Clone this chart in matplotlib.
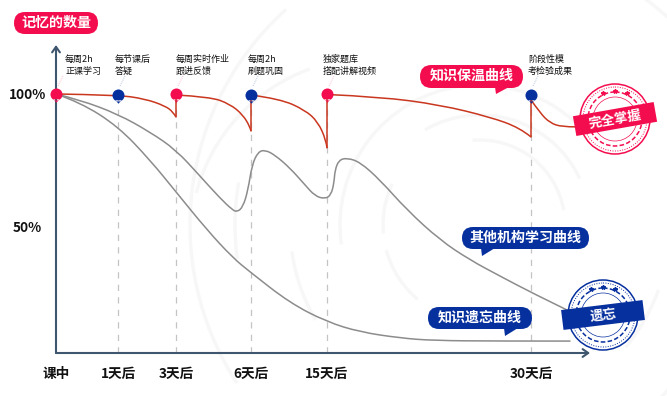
import matplotlib

matplotlib.use("Agg")
import matplotlib.pyplot as plt
from matplotlib.patches import Arc, Circle, FancyBboxPatch, PathPatch, Polygon, Rectangle
from matplotlib.path import Path
from matplotlib.transforms import Affine2D

plt.rcParams["font.family"] = ["Noto Sans CJK SC", "DejaVu Sans"]

RED = "#f40d4e"
BLUE = "#07309f"
CURVE_RED = "#c9371f"
GRAY = "#8c8c8c"
AXIS = "#3f566f"

tick_x = [56, 118, 176, 251, 327, 531]
tick_labels = ["课中", "1天后", "3天后", "6天后", "15天后", "30天后"]

forget_x = [56, 80, 118, 150, 176, 207, 233, 250, 290, 327, 360, 400, 433, 500, 570]
forget_y = [100, 96.8, 87.5, 74.5, 62.2, 47.5, 36.7, 31.3, 19.3, 12.0, 8.1, 5.8, 4.8, 4.6, 4.6]

other_x = [56, 80, 118, 150, 176, 200, 220, 232, 237, 243, 248, 252, 258, 265, 275, 290, 305, 315,
           325, 331, 334, 335, 339, 347, 360, 380, 407, 440, 470, 500, 532, 567]
other_y = [100, 97.7, 92.2, 85.3, 78.4, 68.3, 59.8, 55.4, 54.4, 56.4, 62.9, 72.6, 77.6, 78.4, 76.4, 71.4, 64.9, 60.6,
           59.5, 61, 65.6, 70.7, 74.5, 75.3, 73.7, 66.8, 55.2, 43.6, 35.9, 29.7, 23.2, 16.6]

keep_segments_x = [
    [56, 118, 145, 165, 173, 176],
    [176, 210, 230, 243, 250, 251],
    [251, 280, 305, 318, 326, 327],
    [327, 380, 440, 490, 520, 531],
    [531, 540, 550, 562, 575],
]
keep_segments_y = [
    [100, 99.6, 98.1, 95.4, 93.1, 91.1],
    [99.6, 98.9, 96.1, 91.9, 87.3, 85.7],
    [99.6, 98.1, 93.8, 89.2, 82.2, 79.2],
    [99.8, 98.9, 95.8, 91.1, 86.9, 83.4],
    [97.7, 92.7, 88.8, 87.3, 87.3],
]
drop_x = [176, 251, 327, 531]
drop_top = [99.6, 99.6, 99.8, 99.6]
drop_bottom = [91.1, 85.7, 79.2, 83.4]

pin_x = [56, 118, 176, 251, 327, 531]
pin_y = [100, 99.6, 100, 99.6, 99.8, 99.6]
pin_colors = [RED, BLUE, RED, BLUE, RED, BLUE]

notes = ["每周2h\n正课学习", "每节课后\n答疑", "每周实时作业\n跟进反馈", "每周2h\n刷题巩固", "独家题库\n搭配讲解视频", "阶段性模\n考检验成果"]
note_x = [65, 115, 176, 248, 323, 528]

bg_arcs = [
    (480, 225, 290, 147, 228),
    (372, 240, 182, 195, 250),
    (480, 225, 245, 172, 190),
    (480, 225, 190, 150, 172),
    (480, 225, 140, 172, 262),
    (480, 225, 97, 175, 205),
    (480, 225, 140, 278, 325),
    (480, 225, 110, 240, 335),
    (480, 225, 85, 265, 350),
    (480, 225, 280, 300, 335),
    (480, 225, 250, 25, 50),
    (372, 240, 250, 40, 60),
    (480, 225, 97, 130, 165),
    (480, 225, 190, 20, 40),
]


def smooth_path(xs, ys):
    # quadratic segments through midpoints, keeps the hand drawn look
    verts = [(xs[0], ys[0])]
    codes = [Path.MOVETO]
    for i in range(1, len(xs) - 1):
        verts.append((xs[i], ys[i]))
        codes.append(Path.CURVE3)
        if i < len(xs) - 2:
            verts.append(((xs[i] + xs[i + 1]) / 2, (ys[i] + ys[i + 1]) / 2))
        else:
            verts.append((xs[-1], ys[-1]))
        codes.append(Path.CURVE3)
    return Path(verts, codes)


def add_curve(axis, xs, ys, color, width):
    axis.add_patch(PathPatch(smooth_path(xs, ys), fill=False, edgecolor=color, linewidth=width, capstyle="round"))


def add_bubble(axis, x0, y0, x1, y1, tail, color, label):
    height = y1 - y0
    box = FancyBboxPatch((x0 + height / 2, y0 + height / 2), x1 - x0 - height, 0,
                         boxstyle=f"round,pad={height / 2},rounding_size={height / 2}",
                         facecolor=color, edgecolor="none", zorder=5)
    axis.add_patch(box)
    if tail is not None:
        axis.add_patch(Polygon([(tail[0] - 1, y1 - 1), (tail[0] + 13, y1 - 1), tail], facecolor=color, edgecolor="none", zorder=5))
    axis.text((x0 + x1) / 2, (y0 + y1) / 2 - 0.5, label, color="white", fontsize=10.1, fontweight="bold",
              ha="center", va="center", zorder=6)


def add_stamp(axis, cx, cy, color, label, angle):
    axis.add_patch(Circle((cx, cy), 35, fill=True, facecolor="white", edgecolor=color, linewidth=1.1, zorder=7))
    axis.add_patch(Circle((cx, cy), 32, fill=False, edgecolor=color, linewidth=0.7, linestyle=(0, (1, 1.5)), zorder=7))
    axis.add_patch(Circle((cx, cy), 27, fill=False, edgecolor=color, linewidth=1.1, linestyle=(0, (3, 1.5)), zorder=7))
    axis.add_patch(Circle((cx, cy), 22, fill=False, edgecolor=color, linewidth=0.5, zorder=7))
    axis.plot([cx - 12, cx, cx + 12], [cy - 26, cy - 28, cy - 26], ls="none", marker="*", ms=3.2, color=color, zorder=8)
    banner = Rectangle((cx - 41, cy - 10), 82, 20, facecolor=color, edgecolor="none", zorder=9,
                       transform=Affine2D().rotate_deg_around(cx, cy, -angle) + axis.transData)
    axis.add_patch(banner)
    axis.text(cx, cy, label, color="white", fontsize=9.6, fontweight="bold", rotation=angle,
              rotation_mode="anchor", ha="center", va="center", zorder=10)


fig = plt.figure(figsize=(6.67, 3.96), dpi=100, facecolor="white")
W, H = 667, 396

# background arcs, pixel coordinates
bg = fig.add_axes([0, 0, 1, 1], zorder=0)
bg.set_xlim(0, W)
bg.set_ylim(H, 0)
bg.axis("off")
for cx, cy, r, t0, t1 in bg_arcs:
    bg.add_patch(Arc((cx, cy), 2 * r, 2 * r, theta1=t0, theta2=t1, color="#f7f7f7", linewidth=2.4))

# the chart itself: x in layout units, y in percent
ax = fig.add_axes([56 / W, 1 - 353 / H, (590 - 56) / W, (353 - 45) / H], zorder=1)
ax.patch.set_alpha(0)
ax.set_xlim(56, 590)
ax.set_ylim(0, 118.9)
for side in ax.spines.values():
    side.set_visible(False)
ax.set_xticks(tick_x, tick_labels, fontsize=9.8, fontweight="bold", color="#111111")
ax.set_yticks([49, 100], ["50%", "100%"], fontsize=9.8, fontweight="bold", color="#111111")
ax.tick_params(length=0, pad=7)
ax.tick_params(axis="x", pad=10)
ax.get_yticklabels()[0].set_x(-0.0075)

arrow = dict(arrowstyle="->,head_width=0.28,head_length=0.4", color=AXIS, linewidth=1.5, shrinkA=0, shrinkB=0)
ax.annotate("", xy=(0, 1), xytext=(0, 0), xycoords="axes fraction", textcoords="axes fraction", arrowprops=arrow)
ax.annotate("", xy=(1, 0), xytext=(0, 0), xycoords="axes fraction", textcoords="axes fraction", arrowprops=arrow)

ax.vlines(tick_x[1:], 0, pin_y[1:], color="#c4c4c4", linewidth=0.9, linestyle=(0, (5, 5)), zorder=1)

add_curve(ax, forget_x, forget_y, GRAY, 1.1)
add_curve(ax, other_x, other_y, GRAY, 1.1)
for xs, ys in zip(keep_segments_x, keep_segments_y):
    add_curve(ax, xs, ys, CURVE_RED, 1.1)
ax.vlines(drop_x, drop_bottom, drop_top, color=CURVE_RED, linewidth=1.1, zorder=3)

pin = Path.make_compound_path(Path.unit_circle(), Path([(-0.5, -0.8), (0.5, -0.8), (0, -1.35), (-0.5, -0.8)]))
for x, y, c in zip(pin_x, pin_y, pin_colors):
    ax.plot([x], [y], marker=pin, ms=11.7, color=c, mec="none", ls="none", zorder=4, clip_on=False)

# labels, bubbles and stamps, pixel coordinates
top = fig.add_axes([0, 0, 1, 1], zorder=2)
top.patch.set_alpha(0)
top.set_xlim(0, W)
top.set_ylim(H, 0)
top.axis("off")

for x, label in zip(note_x, notes):
    top.text(x, 65.5, label, fontsize=6.5, fontweight="medium", color="#111111", va="center", ha="left", linespacing=1.4)
for x, c in zip(pin_x, pin_colors):
    tint = "#f6a5b8" if c == RED else "#9aa8cc"
    top.plot([x + 2, x + 7], [86, 76], color=tint, linewidth=0.6, linestyle=(0, (1, 1.5)))

add_bubble(top, 14, 12, 98, 34, None, RED, "记忆的数量")
add_bubble(top, 420, 65, 523, 88, (496, 94), RED, "知识保温曲线")
add_bubble(top, 462, 227, 589, 249, (482, 256), BLUE, "其他机构学习曲线")
add_bubble(top, 428, 307, 532, 329, (505, 336), BLUE, "知识遗忘曲线")

add_stamp(top, 615, 119, RED, "完全掌握", 10)
add_stamp(top, 603, 315, BLUE, "遗忘", 7)

fig.savefig("out.png", dpi=100, facecolor="white")
